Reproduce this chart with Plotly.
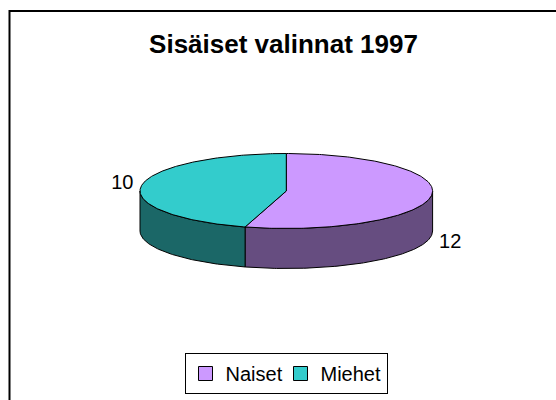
import numpy as np
import plotly.graph_objects as go

# ---- data ----
categories = ["Naiset", "Miehet"]
values = [12, 10]
top_colors = ["#CC99FF", "#33CCCC"]
side_colors = ["#664D80", "#1B6767"]
title_text = "Sisäiset valinnat 1997"

# ---- layout constants (pixel-like units) ----
W, H = 556, 400
CX, CY = 286.3, 191.0      # centre of top ellipse
RX, RY = 146.3, 37.5       # radii of top ellipse
DEPTH = 40.0               # thickness of the pie
FONT = "Arial, Liberation Sans, sans-serif"

total = float(sum(values))
cum = np.concatenate([[0], np.cumsum(values)])
a_start = 90 - 360 * cum[:-1] / total   # clockwise from 12 o'clock
a_end = 90 - 360 * cum[1:] / total


def ell(theta_deg, dy=0.0):
    t = np.radians(theta_deg)
    return CX + RX * np.cos(t), CY - RY * np.sin(t) + dy


def front_parts(lo, hi):
    parts = []
    for k in (-1, 0, 1):
        f0, f1 = -180 + 360 * k, 0 + 360 * k
        a, b = max(lo, f0), min(hi, f1)
        if b > a:
            parts.append((a, b))
    return parts


fig = go.Figure()

# side walls (front half only)
for i in range(len(values)):
    for lo, hi in front_parts(a_end[i], a_start[i]):
        th = np.linspace(lo, hi, 120)
        xt, yt = ell(th)
        xb, yb = ell(th[::-1], DEPTH)
        xs = np.concatenate([xt, xb, xt[:1]])
        ys = np.concatenate([yt, yb, yt[:1]])
        fig.add_trace(go.Scatter(
            x=xs, y=ys, mode="lines", fill="toself",
            fillcolor=side_colors[i], line=dict(color="black", width=1),
            hoverinfo="skip", showlegend=False))

# top faces
for i in range(len(values)):
    th = np.linspace(a_start[i], a_end[i], 240)
    xa, ya = ell(th)
    xs = np.concatenate([[CX], xa, [CX]])
    ys = np.concatenate([[CY], ya, [CY]])
    fig.add_trace(go.Scatter(
        x=xs, y=ys, mode="lines", fill="toself",
        fillcolor=top_colors[i], line=dict(color="black", width=1),
        hoverinfo="skip", showlegend=False,
        name=categories[i]))

# data labels
lx, ly, lpos = [], [], []
for i in range(len(values)):
    mid = (a_start[i] + a_end[i]) / 2
    s = np.sin(np.radians(mid))
    c = np.cos(np.radians(mid))
    dy = DEPTH if s < 0 else 0.0
    x, y = ell(mid, dy)
    x += 8 * np.sign(c)
    y += 7 if s < 0 else -2
    lx.append(x)
    ly.append(y)
    lpos.append("middle right" if c > 0 else "middle left")
fig.add_trace(go.Scatter(
    x=lx, y=ly, mode="text", text=[str(v) for v in values],
    textposition=lpos, textfont=dict(family=FONT, size=20, color="black"),
    hoverinfo="skip", showlegend=False))

# legend entries
for i, cat in enumerate(categories):
    fig.add_trace(go.Scatter(
        x=[None], y=[None], mode="markers", name=cat,
        legendwidth=50 if i == 0 else None,
        marker=dict(symbol="square", size=14, color=top_colors[i],
                    line=dict(color="black", width=1))))

# chart frame
fig.add_shape(type="rect", xref="x", yref="y", x0=9.5, y0=11, x1=W + 20, y1=H + 20,
              line=dict(color="black", width=2), fillcolor="rgba(0,0,0,0)")

fig.update_layout(
    width=W, height=H,
    margin=dict(l=0, r=0, t=0, b=0),
    paper_bgcolor="white", plot_bgcolor="white",
    title=dict(text="<b>" + title_text + "</b>", x=283.5 / W, xanchor="center",
               y=1 - 44 / H, yanchor="middle", yref="container",
               font=dict(family=FONT, size=26, color="black")),
    xaxis=dict(range=[0, W], visible=False, fixedrange=True),
    yaxis=dict(range=[H, 0], visible=False, fixedrange=True),
    showlegend=True,
    legend=dict(orientation="h", x=286 / W, xanchor="center",
                y=1 - 353 / H, yanchor="top",
                bordercolor="black", borderwidth=1, bgcolor="white",
                font=dict(family=FONT, size=20, color="black"),
                itemclick=False, itemdoubleclick=False),
)

fig.write_html("out.html", config={"displayModeBar": False},
               post_script="document.body.style.margin='0';document.body.style.overflow='hidden';")
